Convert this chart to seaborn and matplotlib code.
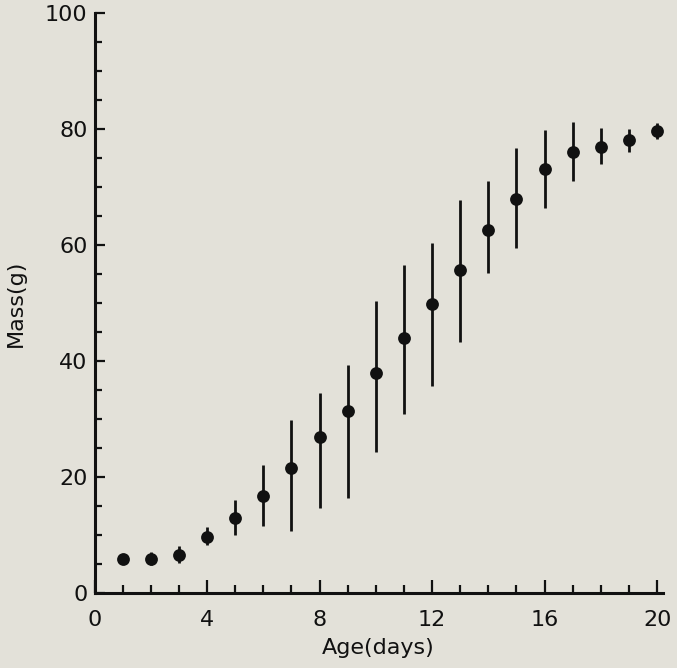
import matplotlib
matplotlib.use("Agg")
import matplotlib.pyplot as plt
from matplotlib.ticker import MultipleLocator
import seaborn as sns
import pandas as pd

days = list(range(1, 21))
mass_mean = [5.85, 5.9, 6.5, 9.7, 12.9, 16.8, 21.5, 26.9, 31.4, 37.9,
             44.0, 49.8, 55.7, 62.7, 68.0, 73.1, 76.1, 77.0, 78.1, 79.7]
mass_low = [5.3, 4.8, 5.2, 8.3, 10.0, 11.6, 10.7, 14.7, 16.4, 24.3,
            30.8, 35.7, 43.3, 55.2, 59.6, 66.5, 71.0, 74.0, 76.0, 78.4]
mass_high = [6.4, 7.1, 8.1, 11.4, 16.1, 22.0, 29.9, 34.5, 39.4, 50.3,
             56.6, 60.3, 67.8, 71.0, 76.8, 79.9, 81.3, 80.3, 80.1, 81.1]
x_ticks = [0, 4, 8, 12, 16, 20]
y_ticks = [0, 20, 40, 60, 80, 100]

df = pd.DataFrame({"day": days, "mean": mass_mean, "low": mass_low, "high": mass_high})

sns.set_style("ticks")
plt.rcParams["font.family"] = ["DejaVu Sans"]

bg = "#e3e1d9"
ink = "#111111"
fig = plt.figure(figsize=(6.77, 6.68), dpi=100, facecolor=bg)
ax = fig.add_axes([0.1396, 0.1123, 0.979 - 0.1396, 0.980 - 0.1123])
ax.set_facecolor(bg)

ax.vlines(df["day"], df["low"], df["high"], color=ink, linewidth=2.0, zorder=2)
sns.scatterplot(data=df, x="day", y="mean", ax=ax, color=ink, s=85,
                edgecolor=ink, linewidth=0, zorder=3, legend=False)

ax.set_xlim(0, 20.2)
ax.set_ylim(0, 100)
ax.set_xticks(x_ticks)
ax.set_yticks(y_ticks)
ax.xaxis.set_minor_locator(MultipleLocator(1))
ax.yaxis.set_minor_locator(MultipleLocator(5))

for side in ["top", "right"]:
    ax.spines[side].set_visible(False)
for side in ["left", "bottom"]:
    ax.spines[side].set_linewidth(2.2)
    ax.spines[side].set_color(ink)

ax.tick_params(axis="both", which="major", direction="in", width=1.6, color=ink,
               labelsize=16, labelcolor=ink)
ax.tick_params(axis="x", which="major", length=9.5, pad=12)
ax.tick_params(axis="x", which="minor", direction="in", length=6, width=1.6, color=ink)
ax.tick_params(axis="y", which="major", length=7.5, pad=5)
ax.tick_params(axis="y", which="minor", direction="in", length=5, width=1.6, color=ink)

ax.set_xlabel("Age(days)", fontsize=16, color=ink, labelpad=6)
ax.set_ylabel("Mass(g)", fontsize=16, color=ink, labelpad=14)

fig.savefig("out.png", dpi=100, facecolor=bg)
